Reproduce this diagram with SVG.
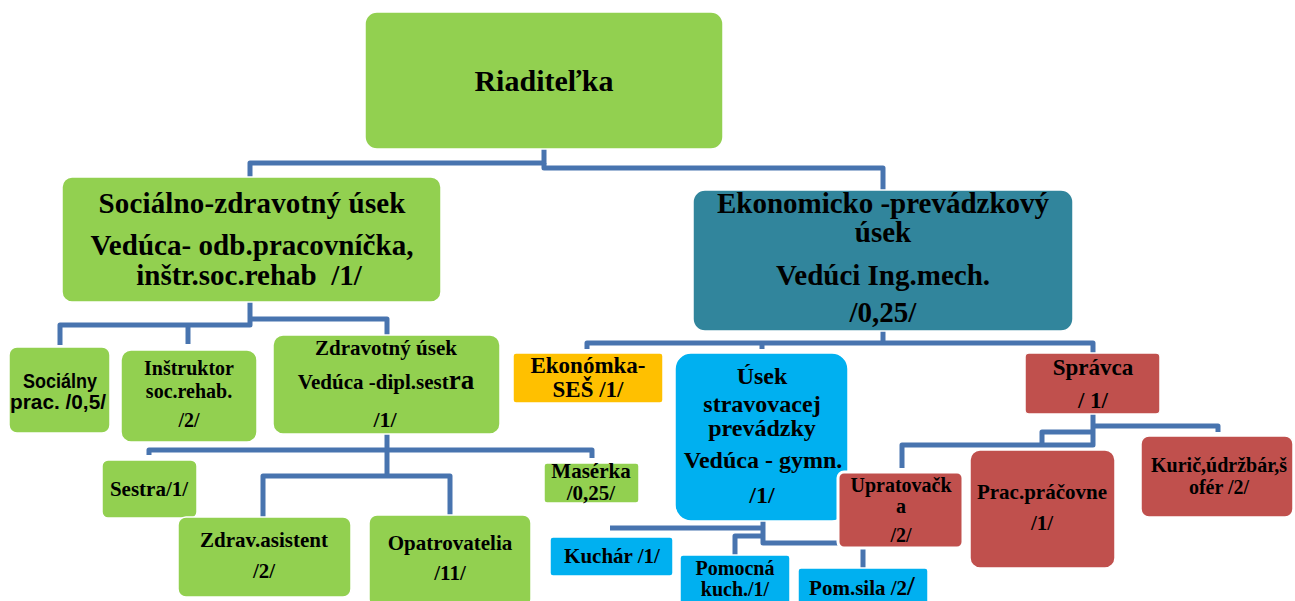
<svg xmlns="http://www.w3.org/2000/svg" width="1295" height="601" viewBox="0 0 1295 601">
<style>
.c{fill:none;stroke:#4874AF;stroke-width:5;stroke-linejoin:round}
.b{stroke:#ffffff;stroke-width:1.5}
.g{fill:#92D050}.t{fill:#31859C}.y{fill:#FFC000}.bl{fill:#00B0F0}.r{fill:#C0504D}
text{font-family:"Liberation Serif","Times New Roman",serif;font-weight:bold;fill:#000;text-anchor:middle}
.s{font-family:"Liberation Sans",Arial,sans-serif}
</style>
<rect width="1295" height="601" fill="#ffffff"/>
<g id="connectors">
<path class="c" d="M250,177 V163 H544 V149"/>
<path class="c" d="M544,163 V168 H883 V190"/>
<path class="c" d="M250,302 V325 H60 V345"/>
<path class="c" d="M188,325 V344"/>
<path class="c" d="M250,319 H387 V335"/>
<path class="c" d="M387,434 V476"/>
<path class="c" d="M149,455 V450 H592 V458"/>
<path class="c" d="M263,519 V476 H450 V518"/>
<path class="c" d="M883,331 V343"/>
<path class="c" d="M587,349 V343 H1093 V353"/>
<path class="c" d="M762,343 V349"/>
<path class="c" d="M763,521 V543 H863 V568"/>
<path class="c" d="M763,528 H610"/>
<path class="c" d="M763,536 H735 V555"/>
<path class="c" d="M1093,414 V445 H902 V468"/>
<path class="c" d="M1093,426 H1218 V432"/>
<path class="c" d="M1093,432 H1042 V445"/>
</g>
<g id="riaditelka">
<rect class="g b" x="365" y="12" width="358" height="137" rx="12"/>
<text x="544" y="91" font-size="30">Riaditeľka</text>
</g>
<g id="socialno-zdravotny">
<rect class="g b" x="62" y="177" width="379" height="125" rx="10"/>
<text x="252" y="213" font-size="29" textLength="307">Sociálno-zdravotný úsek</text>
<text x="252" y="255" font-size="29" textLength="323">Vedúca- odb.pracovníčka,</text>
<text x="249" y="285" font-size="29" xml:space="preserve">inštr.soc.rehab  /1/</text>
</g>
<g id="ekonomicko">
<rect class="t b" x="693" y="190" width="380" height="141" rx="12"/>
<text x="883" y="213" font-size="29" textLength="332">Ekonomicko -prevádzkový</text>
<text x="883" y="242" font-size="29">úsek</text>
<text x="883" y="285" font-size="29">Vedúci Ing.mech.</text>
<text x="883" y="322" font-size="29">/0,25/</text>
</g>
<g id="socialny">
<rect class="g b" x="9" y="347" width="101" height="86" rx="8"/>
<text class="s" x="60" y="388" font-size="20" textLength="74" lengthAdjust="spacingAndGlyphs">Sociálny</text>
<text class="s" x="58" y="409" font-size="20" textLength="96" lengthAdjust="spacingAndGlyphs">prac. /0,5/</text>
</g>
<g id="instruktor">
<rect class="g b" x="121" y="350" width="136" height="92" rx="10"/>
<text x="189" y="375" font-size="20">Inštruktor</text>
<text x="189" y="398" font-size="20">soc.rehab.</text>
<text x="189" y="427" font-size="20">/2/</text>
</g>
<g id="zdravotny">
<rect class="g b" x="273" y="335" width="227" height="99" rx="10"/>
<text x="386" y="355" font-size="21">Zdravotný úsek</text>
<text x="386" y="389" font-size="21">Vedúca -dipl.sest<tspan font-size="27">ra</tspan></text>
<text x="385" y="427" font-size="22">/1/</text>
</g>
<g id="sestra">
<rect class="g b" x="102" y="460" width="95" height="58" rx="6"/>
<text x="149" y="496" font-size="21">Sestra/1/</text>
</g>
<g id="maserka">
<rect class="g b" x="544" y="463" width="95" height="40" rx="3"/>
<text x="591" y="478" font-size="21">Masérka</text>
<text x="591" y="500" font-size="21">/0,25/</text>
</g>
<g id="zdrav-asistent">
<rect class="g b" x="178" y="517" width="173" height="80" rx="8"/>
<text x="264" y="547" font-size="21">Zdrav.asistent</text>
<text x="264" y="578" font-size="21">/2/</text>
</g>
<g id="opatrovatelia">
<rect class="g b" x="369" y="515" width="162" height="92" rx="8"/>
<text x="450" y="550" font-size="21">Opatrovatelia</text>
<text x="450" y="580" font-size="21">/11/</text>
</g>
<g id="ekonomka">
<rect class="y b" x="513" y="353" width="150" height="50" rx="3"/>
<text x="588" y="373" font-size="23">Ekonómka-</text>
<text x="588" y="397" font-size="23">SEŠ /1/</text>
</g>
<g id="usek-stravovacej">
<rect class="bl b" x="675" y="353" width="173" height="168" rx="16"/>
<text x="762" y="384" font-size="24">Úsek</text>
<text x="762" y="412" font-size="24">stravovacej</text>
<text x="762" y="436" font-size="24">prevádzky</text>
<text x="763" y="468" font-size="24">Vedúca - gymn.</text>
<text x="762" y="503" font-size="24">/1/</text>
</g>
<g id="kuchar">
<rect class="bl b" x="550" y="537" width="123" height="39" rx="3"/>
<text x="612" y="563" font-size="21">Kuchár /1/</text>
</g>
<g id="pomocna">
<rect class="bl b" x="680" y="555" width="110" height="52" rx="3"/>
<text x="735" y="575" font-size="20">Pomocná</text>
<text x="735" y="596" font-size="20">kuch./1/</text>
</g>
<g id="pom-sila">
<rect class="bl b" x="798" y="568" width="130" height="40" rx="3"/>
<text x="862" y="595" font-size="21">Pom.sila /2<tspan font-size="28">/</tspan></text>
</g>
<g id="spravca">
<rect class="r b" x="1025" y="353" width="135" height="61" rx="4"/>
<text x="1093" y="375" font-size="23">Správca</text>
<text x="1093" y="408" font-size="23">/ 1/</text>
</g>
<g id="upratovacka">
<rect class="r" x="838" y="472" width="125" height="76" rx="6" stroke="#ffffff" stroke-width="3"/>
<text x="901" y="492" font-size="20">Upratovačk</text>
<text x="901" y="513" font-size="20">a</text>
<text x="901" y="542" font-size="20">/2/</text>
</g>
<g id="prac-pracovne">
<rect class="r b" x="970" y="450" width="145" height="118" rx="10"/>
<text x="1042" y="499" font-size="21">Prac.práčovne</text>
<text x="1042" y="530" font-size="21">/1/</text>
</g>
<g id="kuric">
<rect class="r b" x="1141" y="436" width="152" height="81" rx="8"/>
<text x="1219" y="472" font-size="20">Kurič,údržbár,š</text>
<text x="1219" y="494" font-size="20">ofér /2/</text>
</g>
</svg>
